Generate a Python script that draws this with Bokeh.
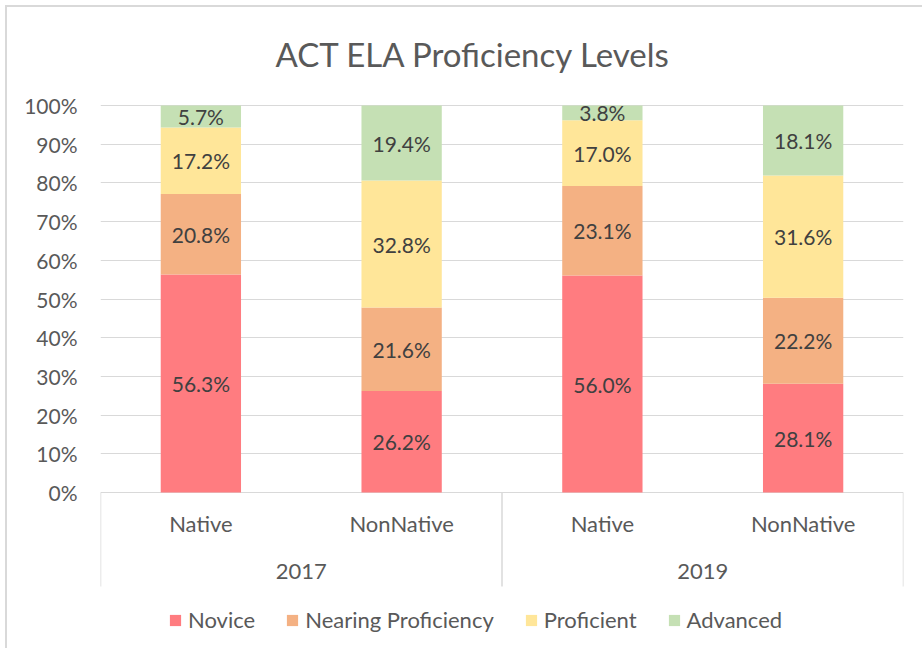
from bokeh.plotting import figure
from bokeh.models import (ColumnDataSource, Range1d, FixedTicker, NumeralTickFormatter,
                          Legend, LegendItem)
from bokeh.core.properties import value
from bokeh.embed import file_html
from bokeh.resources import INLINE

# ---- data ----
years = ["2017", "2017", "2019", "2019"]
groups = ["Native", "NonNative", "Native", "NonNative"]
levels = ["Novice", "Nearing Proficiency", "Proficient", "Advanced"]
novice = [56.3, 26.2, 56.0, 28.1]
nearing = [20.8, 21.6, 23.1, 22.2]
proficient = [17.2, 32.8, 17.0, 31.6]
advanced = [5.7, 19.4, 3.8, 18.1]
colors = ["#FF7C80", "#F4B183", "#FFE699", "#C5E0B4"]
y_ticks = [0, 0.1, 0.2, 0.3, 0.4, 0.5, 0.6, 0.7, 0.8, 0.9, 1.0]

FONT = "Lato"
TXT = "#595959"

# ---- layout (pixels) ----
W, H = 922, 648
LEFT, TOP = 100, 104
RIGHT_PAD = W - LEFT - 803
PX = 387.0                      # pixels per 100%
zero_px = 492                   # figure y of 0%
y_end = (zero_px - TOP) / PX
y_start = -(H - zero_px) / PX

n = len(groups)
xs = [i + 0.5 for i in range(n)]
series = [novice, nearing, proficient, advanced]
totals = [sum(s[i] for s in series) for i in range(n)]
fr = {lv: [s[i] / totals[i] for i in range(n)] for lv, s in zip(levels, series)}

src = ColumnDataSource(dict(x=xs, **fr))

p = figure(width=W, height=H, output_backend="svg", toolbar_location=None,
           x_range=Range1d(0, n), y_range=Range1d(y_start, y_end),
           x_axis_location=None, min_border_left=LEFT, min_border_right=RIGHT_PAD,
           min_border_top=TOP, min_border_bottom=0,
           title="ACT ELA Proficiency Levels")
p.outline_line_color = None
p.border_fill_color = None
p.background_fill_color = "white"
p.styles = {
    "background-color": "white",
    "background-image": "linear-gradient(#d9d9d9,#d9d9d9), linear-gradient(#d9d9d9,#d9d9d9)",
    "background-size": "2px 100%, 100% 2px",
    "background-position": "5px 5px, 5px 5px",
    "background-repeat": "no-repeat",
}
p.xgrid.visible = False
p.ygrid.grid_line_color = "#d9d9d9"
p.ygrid.grid_line_width = 1

p.title.text_font = FONT
p.title.text_font_size = "33px"
p.title.text_font_style = "normal"
p.title.text_color = TXT
p.title.align = "left"
p.title.offset = 175
p.title.standoff = 62

ya = p.yaxis[0]
ya.ticker = FixedTicker(ticks=y_ticks)
ya.formatter = NumeralTickFormatter(format="0%")
ya.axis_line_color = None
ya.major_tick_line_color = None
ya.minor_tick_line_color = None
ya.major_tick_out = 0
ya.major_tick_in = 0
ya.major_label_standoff = 23
ya.major_label_text_font = FONT
ya.major_label_text_font_size = "21px"
ya.major_label_text_color = TXT

rs = p.vbar_stack(levels, x="x", width=0.4, source=src, color=colors, line_color=None)

# segment labels
lx, ly, lt = [], [], []
for i in range(n):
    base = 0.0
    for lv, s in zip(levels, series):
        v = fr[lv][i]
        lx.append(xs[i]); ly.append(base + v / 2); lt.append(f"{s[i]:.1f}%")
        base += v
p.text(x=lx, y=ly, text=lt, text_align="center", text_baseline="middle",
       text_font=value(FONT), text_font_size="21px", text_color="#404040")

# category axis box
cat_bottom = -(586 - zero_px) / PX
bounds = [0] + [i for i in range(1, n) if years[i] != years[i - 1]] + [n]
p.segment(x0=bounds, x1=bounds, y0=[0] * len(bounds), y1=[cat_bottom] * len(bounds),
          line_color="#d9d9d9", line_width=1.5)
p.text(x=xs, y=[-(523 - zero_px) / PX] * n, text=groups, text_align="center",
       text_baseline="middle", text_font=value(FONT), text_font_size="22px", text_color=TXT)
uy = []
for y in years:
    if y not in uy:
        uy.append(y)
gx = [sum(xs[i] for i in range(n) if years[i] == y) / years.count(y) for y in uy]
p.text(x=gx, y=[-(571 - zero_px) / PX] * len(uy), text=uy, text_align="center",
       text_baseline="middle", text_font=value(FONT), text_font_size="22px", text_color=TXT)

legend = Legend(items=[LegendItem(label=lv, renderers=[r]) for lv, r in zip(levels, rs)],
                orientation="horizontal", location=(68, 15), padding=0, margin=0,
                spacing=30, glyph_width=14, glyph_height=14, label_standoff=6,
                border_line_color=None, background_fill_alpha=0,
                label_text_font=FONT, label_text_font_size="22px", label_text_color=TXT)
p.add_layout(legend)

open("out.html", "w").write(file_html(p, INLINE))
